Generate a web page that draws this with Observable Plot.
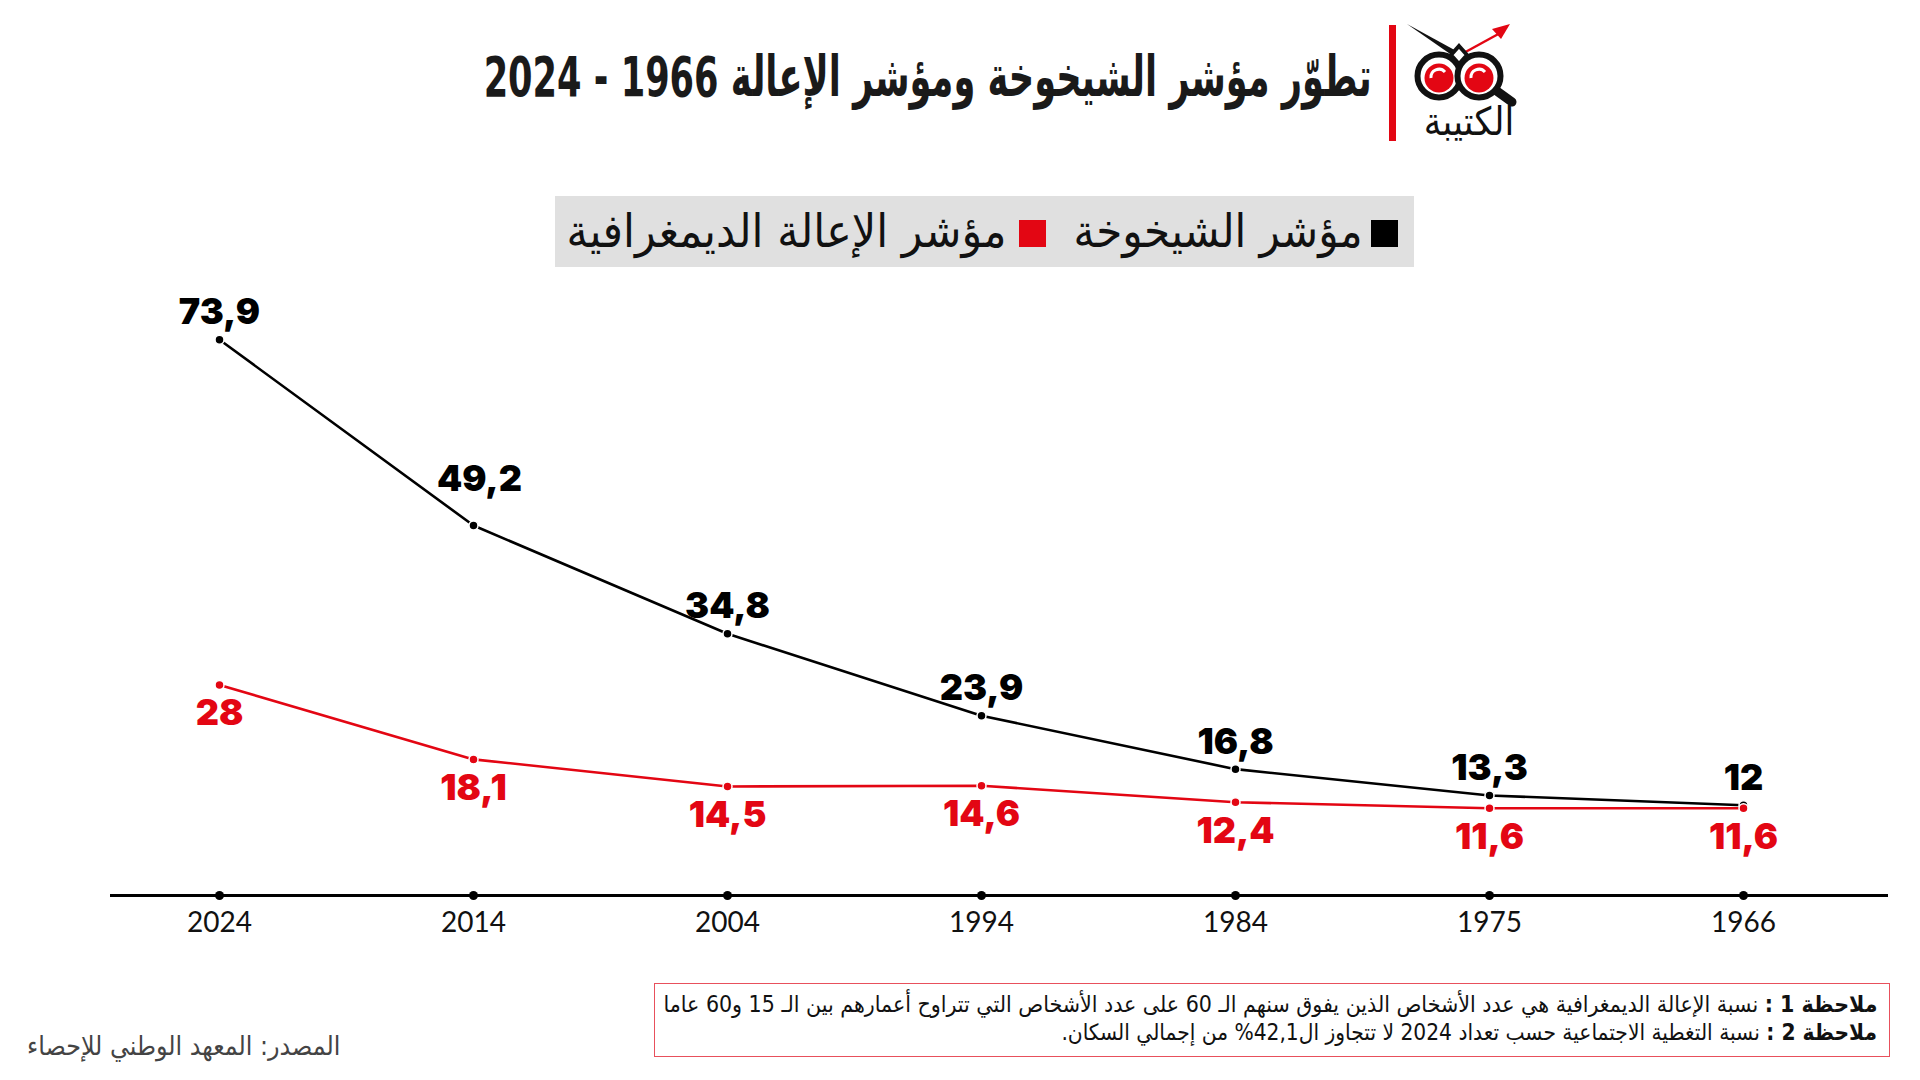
<!DOCTYPE html>
<html lang="ar">
<head>
<meta charset="utf-8">
<script src="https://cdn.jsdelivr.net/npm/d3@7"></script>
<script src="https://cdn.jsdelivr.net/npm/@observablehq/plot@0.6"></script>
<style>
  html, body { margin: 0; padding: 0; background: #fff; }
  #page { position: relative; width: 1920px; height: 1080px; overflow: hidden; background: #fff;
          font-family: "DejaVu Sans Condensed", "DejaVu Sans", sans-serif; color: #111; }
  .abs { position: absolute; }
  #title { right: 548px; top: 44px; height: 66px; line-height: 66px; font-size: 56px; font-weight: bold;
           direction: rtl; white-space: nowrap; color: #1a1a1a; transform-origin: right center; }
  #legendBox { left: 555px; top: 196px; width: 859px; height: 71px; background: #e0e0e0; }
  .lgText { top: 196px; height: 71px; line-height: 71px; font-size: 46px; direction: rtl; white-space: nowrap;
            color: #111; transform-origin: right center; }
  .sw { top: 220px; width: 27px; height: 27px; }
  #chart { left: 0; top: 270px; }
  #notes { left: 654px; top: 983px; width: 1222px; height: 66px; border: 1.5px solid #e8505c;
           direction: rtl; font-size: 22.5px; line-height: 28px; padding: 6px 12px 0 0; white-space: nowrap; color: #111; }
  #note1 { display: inline-block; transform-origin: right center; }
  #source { left: 27px; top: 1030px; font-size: 26.5px; direction: rtl; color: #444; white-space: nowrap; }
</style>
</head>
<body>
<div id="page">
  <div id="title" class="abs"></div>
  <svg id="logo" class="abs" style="left:1380px;top:15px" width="150" height="135" viewBox="0 0 150 135">
    <rect x="9" y="10" width="7" height="116" fill="#e30613"/>
    <path d="M27 9 L80 38 L76 43 Z" fill="#111"/>
    <line x1="80" y1="40" x2="122" y2="17" stroke="#e30613" stroke-width="2.5"/>
    <polygon points="130,9 112,14 121,24" fill="#e30613"/>
    <line x1="114" y1="74" x2="132" y2="87" stroke="#111" stroke-width="9" stroke-linecap="round"/>
    <circle cx="59" cy="61" r="21.5" fill="#fff" stroke="#111" stroke-width="6"/>
    <circle cx="99" cy="61" r="21.5" fill="#fff" stroke="#111" stroke-width="6"/>
    <polygon points="79,31 87,40 79,49 71,40" fill="#fff" stroke="#111" stroke-width="4"/>
    <circle cx="59" cy="63" r="14.5" fill="#e30613"/>
    <circle cx="99" cy="63" r="14.5" fill="#e30613"/>
    <path d="M51 63 A8 8 0 0 1 65 57" fill="none" stroke="#fff" stroke-width="3"/>
    <path d="M91 63 A8 8 0 0 1 105 57" fill="none" stroke="#fff" stroke-width="3"/>
    <text x="89" y="120" text-anchor="middle" font-size="39" font-family="DejaVu Sans Condensed, DejaVu Sans" fill="#111" direction="rtl">الكتيبة</text>
  </svg>
  <div id="legendBox" class="abs"></div>
  <div id="chart" class="abs"></div>
  <div id="notes" class="abs"></div>
  <div id="source" class="abs"></div>
</div>
<script>
// ---- data ----
const titleText = "تطوّر مؤشر الشيخوخة ومؤشر الإعالة 1966 - 2024";
const years = ["2024", "2014", "2004", "1994", "1984", "1975", "1966"];
const seriesNames = ["مؤشر الشيخوخة", "مؤشر الإعالة الديمغرافية"];
const agingIndex = [73.9, 49.2, 34.8, 23.9, 16.8, 13.3, 12];
const dependencyRatio = [28, 18.1, 14.5, 14.6, 12.4, 11.6, 11.6];
const seriesColors = ["#000000", "#e30613"];
const note1Label = "ملاحظة 1 :";
const note1Text = " نسبة الإعالة الديمغرافية هي عدد الأشخاص الذين يفوق سنهم الـ 60 على عدد الأشخاص التي تتراوح أعمارهم بين الـ 15 و60 عاما";
const note2Label = "ملاحظة 2 :";
const note2Text = " نسبة التغطية الاجتماعية حسب تعداد 2024 لا تتجاوز ال42,1% من إجمالي السكان.";
const sourceText = "المصدر: المعهد الوطني للإحصاء";

// ---- table ----
const rows = [];
years.forEach((y, i) => {
  rows.push({ year: y, value: agingIndex[i], series: seriesNames[0] });
  rows.push({ year: y, value: dependencyRatio[i], series: seriesNames[1] });
});
const fmt = v => String(v).replace(".", ",");

// ---- layout helpers ----
const page = document.getElementById("page");
function fitX(el, target) {
  const w = el.getBoundingClientRect().width;
  if (w > 0) el.style.transform = `scaleX(${target / w})`;
}

// ---- title ----
const title = document.getElementById("title");
title.textContent = titleText;
fitX(title, 888);

// ---- legend ----
const legendLayout = [
  { sq: 1371, right: 1363, width: 289 },
  { sq: 1019, right: 1007, width: 440 }
];
seriesNames.forEach((name, i) => {
  const L = legendLayout[i];
  const sw = document.createElement("div");
  sw.className = "abs sw";
  sw.style.left = L.sq + "px";
  sw.style.background = seriesColors[i];
  page.appendChild(sw);
  const t = document.createElement("div");
  t.className = "abs lgText";
  t.style.right = (1920 - L.right) + "px";
  t.textContent = name;
  page.appendChild(t);
  fitX(t, L.width);
});

// ---- notes & source ----
const notes = document.getElementById("notes");
[[note1Label, note1Text], [note2Label, note2Text]].forEach(([l, t], i) => {
  const d = document.createElement("div");
  const s = document.createElement("span");
  if (i === 0) s.id = "note1";
  const b = document.createElement("b");
  b.textContent = l;
  s.appendChild(b);
  s.appendChild(document.createTextNode(t));
  d.appendChild(s);
  notes.appendChild(d);
});
fitX(document.getElementById("note1"), 1214);
document.getElementById("source").textContent = sourceText;

// ---- chart ----
const labelStyle = { fontSize: 36, fontWeight: 900, fontFamily: "Inter, Roboto, sans-serif" };
const agingRows = rows.filter(d => d.series === seriesNames[0]);
const depRows = rows.filter(d => d.series === seriesNames[1]);
const chart = Plot.plot({
  width: 1920,
  height: 680,
  marginLeft: 110,
  marginRight: 32,
  marginTop: 23.4,
  marginBottom: 55,
  style: { fontFamily: "Lato, sans-serif", background: "transparent", overflow: "visible" },
  x: { type: "point", domain: years, padding: 0.49, align: 0.43, label: null },
  y: { domain: [0, 80], axis: null },
  color: { domain: seriesNames, range: seriesColors },
  marks: [
    Plot.ruleY([0], { stroke: "#000", strokeWidth: 3 }),
    Plot.dot(years, { x: d => d, y: 0, r: 4.5, fill: "#000" }),
    Plot.axisX({ tickSize: 0, tickPadding: 17, fontSize: 28, fill: "#111", fontFamily: "Lato, sans-serif" }),
    Plot.line(rows, { x: "year", y: "value", z: "series", stroke: "series", strokeWidth: 2.6 }),
    Plot.dot(rows, { x: "year", y: "value", r: 4.5, fill: "series", stroke: "#fff", strokeWidth: 1.5 }),
    Plot.text(agingRows.filter(d => d.year !== "2014"), {
      x: "year", y: "value", text: d => fmt(d.value), dy: -27, fill: "series", ...labelStyle
    }),
    Plot.text(agingRows.filter(d => d.year === "2014"), {
      x: "year", y: "value", text: d => fmt(d.value), dx: 6, dy: -46, fill: "series", ...labelStyle
    }),
    Plot.text(depRows, {
      x: "year", y: "value", text: d => fmt(d.value), dy: 29, fill: "series", ...labelStyle
    })
  ]
});
document.getElementById("chart").appendChild(chart);
</script>
</body>
</html>
